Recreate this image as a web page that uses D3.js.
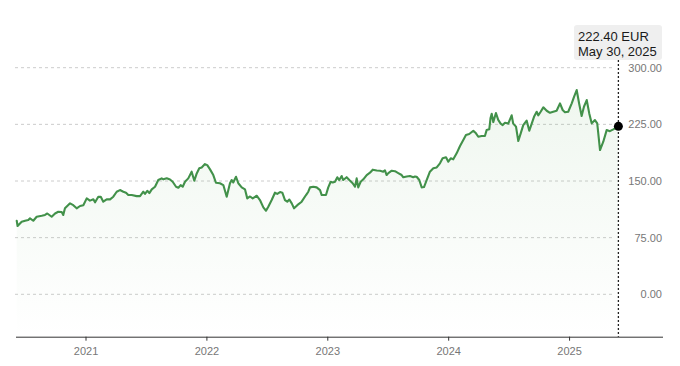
<!DOCTYPE html>
<html>
<head>
<meta charset="utf-8">
<script src="https://cdn.jsdelivr.net/npm/d3@7"></script>
<style>
  html, body { margin: 0; padding: 0; background: #fff; }
  svg { display: block; font-family: "Liberation Sans", Arial, Helvetica, sans-serif; }
</style>
</head>
<body>
<svg id="chart" width="680" height="366"></svg>
<script>
// Time as decimal years, price in EUR
const times = [
  2020.431, 2020.438, 2020.472, 2020.500, 2020.527, 2020.541, 2020.568, 2020.596, 2020.638, 2020.665,
  2020.684, 2020.720, 2020.748, 2020.775, 2020.803, 2020.816, 2020.830, 2020.872, 2020.899, 2020.927,
  2020.955, 2020.982, 2021.010, 2021.037, 2021.065, 2021.079, 2021.106, 2021.126, 2021.147, 2021.175,
  2021.203, 2021.230, 2021.258, 2021.285, 2021.313, 2021.335, 2021.354, 2021.382, 2021.423, 2021.451,
  2021.478, 2021.492, 2021.511, 2021.528, 2021.548, 2021.575, 2021.602, 2021.630, 2021.644, 2021.672,
  2021.699, 2021.721, 2021.749, 2021.768, 2021.787, 2021.804, 2021.823, 2021.850, 2021.878, 2021.900,
  2021.920, 2021.941, 2021.961, 2021.988, 2022.007, 2022.030, 2022.057, 2022.079, 2022.112, 2022.140,
  2022.168, 2022.195, 2022.209, 2022.222, 2022.245, 2022.264, 2022.292, 2022.319, 2022.338, 2022.361,
  2022.383, 2022.416, 2022.443, 2022.471, 2022.493, 2022.512, 2022.540, 2022.567, 2022.586, 2022.609,
  2022.628, 2022.650, 2022.669, 2022.686, 2022.706, 2022.725, 2022.752, 2022.788, 2022.824, 2022.843,
  2022.857, 2022.884, 2022.912, 2022.940, 2022.954, 2022.989, 2023.008, 2023.028, 2023.045, 2023.064,
  2023.083, 2023.099, 2023.119, 2023.132, 2023.160, 2023.182, 2023.210, 2023.229, 2023.243, 2023.256,
  2023.276, 2023.298, 2023.326, 2023.353, 2023.376, 2023.409, 2023.436, 2023.463, 2023.477, 2023.491,
  2023.505, 2023.533, 2023.560, 2023.587, 2023.615, 2023.629, 2023.657, 2023.684, 2023.711, 2023.725,
  2023.739, 2023.761, 2023.781, 2023.800, 2023.822, 2023.849, 2023.877, 2023.905, 2023.932, 2023.954,
  2023.982, 2024.001, 2024.021, 2024.042, 2024.070, 2024.098, 2024.125, 2024.147, 2024.174, 2024.208,
  2024.230, 2024.249, 2024.277, 2024.304, 2024.318, 2024.340, 2024.350, 2024.360, 2024.373, 2024.395,
  2024.414, 2024.434, 2024.451, 2024.470, 2024.497, 2024.525, 2024.538, 2024.561, 2024.580, 2024.600,
  2024.621, 2024.649, 2024.671, 2024.691, 2024.710, 2024.732, 2024.745, 2024.765, 2024.787, 2024.815,
  2024.842, 2024.869, 2024.897, 2024.925, 2024.947, 2024.966, 2024.993, 2025.022, 2025.041, 2025.063,
  2025.084, 2025.104, 2025.123, 2025.146, 2025.167, 2025.187, 2025.214, 2025.233, 2025.256, 2025.283,
  2025.311, 2025.338, 2025.366, 2025.408
];
const prices = [
  97.4, 90.4, 96.0, 97.4, 98.3, 100.6, 97.4, 102.7, 104.0, 105.0,
  107.0, 102.7, 107.0, 109.3, 109.0, 105.0, 113.8, 120.4, 118.0, 113.8,
  116.9, 118.0, 127.0, 124.0, 125.7, 121.8, 129.2, 129.0, 122.6, 125.7,
  125.7, 129.2, 135.8, 138.0, 135.8, 134.5, 131.4, 131.4, 130.0, 130.0,
  135.8, 133.0, 137.0, 134.0, 139.0, 142.4, 151.3, 153.5, 152.2, 153.5,
  152.0, 149.0, 142.4, 141.0, 144.6, 142.4, 149.0, 153.5, 162.3, 150.4,
  160.0, 166.8, 168.0, 172.4, 171.0, 165.4, 157.9, 147.7, 147.0, 144.6,
  129.2, 147.0, 151.3, 148.0, 155.6, 147.0, 141.6, 139.0, 127.0, 129.5,
  127.0, 130.5, 124.8, 115.0, 110.6, 116.0, 124.8, 134.5, 133.0, 135.4,
  134.5, 124.8, 122.6, 125.5, 120.4, 113.8, 118.0, 122.6, 131.4, 135.8,
  141.6, 142.4, 141.6, 138.0, 131.4, 131.4, 141.6, 149.0, 148.0, 149.0,
  154.9, 151.3, 156.6, 151.3, 155.0, 151.3, 147.0, 142.4, 153.5, 141.6,
  149.0, 152.2, 157.9, 161.0, 165.0, 164.0, 163.6, 162.3, 164.0, 157.9,
  160.5, 163.6, 163.0, 160.5, 157.9, 154.9, 156.0, 156.6, 155.0, 156.0,
  155.6, 151.3, 141.6, 142.0, 151.3, 162.3, 166.8, 168.0, 173.4, 180.0,
  181.3, 175.5, 180.0, 178.7, 186.6, 196.3, 204.2, 210.8, 212.2, 216.5,
  213.1, 208.6, 209.5, 209.5, 217.4, 218.4, 233.0, 239.0, 228.0, 240.0,
  231.0, 226.0, 224.0, 227.0, 226.0, 237.0, 226.0, 222.0, 203.0, 213.0,
  224.0, 230.0, 216.5, 226.0, 235.0, 241.7, 237.0, 241.7, 247.5, 243.0,
  240.3, 241.7, 243.0, 252.8, 244.0, 241.0, 241.7, 252.8, 261.5, 270.4,
  252.0, 236.0, 248.3, 257.2, 239.5, 226.3, 230.7, 226.3, 191.0, 202.0,
  217.4, 216.0, 218.4, 222.4
];
const yTicks = [0, 75, 150, 225, 300];
const xTicks = [2021, 2022, 2023, 2024, 2025];
const lastLabelValue = "222.40 EUR";
const lastLabelDate = "May 30, 2025";

const data = times.map((t, i) => ({ t, v: prices[i] }));

const svg = d3.select("#chart");
const x = d3.scaleLinear().domain([2020.425, 2025.777]).range([16, 663]);
const y = d3.scaleLinear().domain([0, 300]).range([294.3, 67.7]);
const axisY = 336.7;

// gradient
const defs = svg.append("defs");
const grad = defs.append("linearGradient")
  .attr("id", "fillGrad").attr("gradientUnits", "userSpaceOnUse")
  .attr("x1", 0).attr("x2", 0).attr("y1", 80).attr("y2", axisY);
grad.append("stop").attr("offset", "0%").attr("stop-color", "#5aa85a").attr("stop-opacity", 0.10);
grad.append("stop").attr("offset", "100%").attr("stop-color", "#5aa85a").attr("stop-opacity", 0.0);

// gridlines
const gridG = svg.append("g");
gridG.selectAll("line").data(yTicks).join("line")
  .attr("x1", 15).attr("x2", 615)
  .attr("y1", d => y(d)).attr("y2", d => y(d))
  .attr("stroke", "#cccccc").attr("stroke-width", 1)
  .attr("stroke-dasharray", "3,3");

// y labels
svg.append("g").selectAll("text").data(yTicks).join("text")
  .attr("x", 662).attr("y", d => y(d)).attr("dy", "0.35em")
  .attr("text-anchor", "end")
  .attr("font-size", 11).attr("fill", "#777")
  .text(d => d3.format(".2f")(d));

// area
const area = d3.area().x(d => x(d.t)).y0(axisY).y1(d => y(d.v)).curve(d3.curveLinear);
svg.append("path").datum(data).attr("d", area).attr("fill", "url(#fillGrad)");

// line
const line = d3.line().x(d => x(d.t)).y(d => y(d.v));
svg.append("path").datum(data).attr("d", line)
  .attr("fill", "none").attr("stroke", "#42914a").attr("stroke-width", 2.1)
  .attr("stroke-linejoin", "round").attr("stroke-linecap", "round");

// x axis
const xAxis = d3.axisBottom(x).tickValues(xTicks).tickFormat(d3.format("d")).tickSize(4).tickPadding(7);
const xg = svg.append("g").attr("transform", `translate(0,${axisY})`).call(xAxis);
xg.select(".domain").attr("stroke", "#333").attr("d", `M16,0.5H663`);
xg.selectAll(".tick line").attr("stroke", "#333");
xg.selectAll(".tick text").attr("font-size", 11).attr("fill", "#777")
  .attr("font-family", "Liberation Sans, Arial, sans-serif");

// vertical marker
const last = data[data.length - 1];
svg.append("line")
  .attr("x1", x(last.t)).attr("x2", x(last.t))
  .attr("y1", 60).attr("y2", axisY)
  .attr("stroke", "#222").attr("stroke-width", 1.3)
  .attr("stroke-dasharray", "2,2");

svg.append("circle").attr("cx", x(last.t)).attr("cy", y(last.v)).attr("r", 4.5).attr("fill", "#000");

// label box
const boxG = svg.append("g");
boxG.append("rect").attr("x", 574).attr("y", 25).attr("width", 88).attr("height", 35)
  .attr("rx", 3).attr("fill", "#efefef");
boxG.append("text").attr("x", 578).attr("y", 40.5).attr("font-size", 13).attr("fill", "#1a1a1a").text(lastLabelValue);
boxG.append("text").attr("x", 578).attr("y", 56).attr("font-size", 13).attr("fill", "#1a1a1a").text(lastLabelDate);
</script>
</body>
</html>
